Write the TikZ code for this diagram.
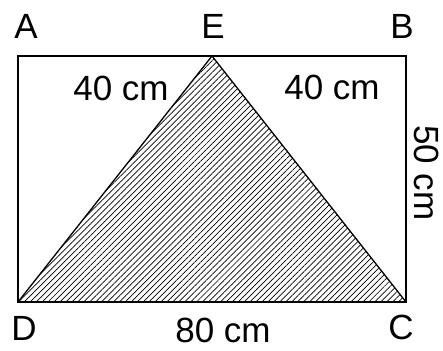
\documentclass[tikz,border=0pt]{standalone}
\usepackage{fontspec}
\setmainfont{Liberation Sans}
\usetikzlibrary{patterns.meta}
\begin{document}
\begin{tikzpicture}[x=1pt,y=-1pt,
  lbl/.style={font=\fontsize{35}{40}\selectfont, inner sep=0pt}]
\useasboundingbox (0,0) rectangle (443,350);
\coordinate (A) at (18,56);
\coordinate (B) at (406,56);
\coordinate (C) at (406,302);
\coordinate (D) at (18,302);
\coordinate (E) at (212,56);
\fill[pattern={Lines[angle=45,distance=4.2pt,line width=0.7pt]}] (D) -- (E) -- (C) -- cycle;
\draw[line width=1.3pt] (A) -- (B) -- (C) -- (D) -- cycle;
\draw[line width=1.3pt] (D) -- (E) -- (C);
\node[lbl] (lA) at (26,26) {A};
\node[lbl] (lE) at (213,26) {E};
\node[lbl] (lB) at (402,26) {B};
\node[lbl] (lD) at (24,328) {D};
\node[lbl] (lC) at (401,327) {C};
\node[lbl] (l80) at (223,330) {80 cm};
\node[lbl] (l40a) at (121,88) {40 cm};
\node[lbl] (l40b) at (332,87) {40 cm};
\node[lbl,rotate=-90] (l50) at (427,173) {50 cm};
\end{tikzpicture}
\end{document}
